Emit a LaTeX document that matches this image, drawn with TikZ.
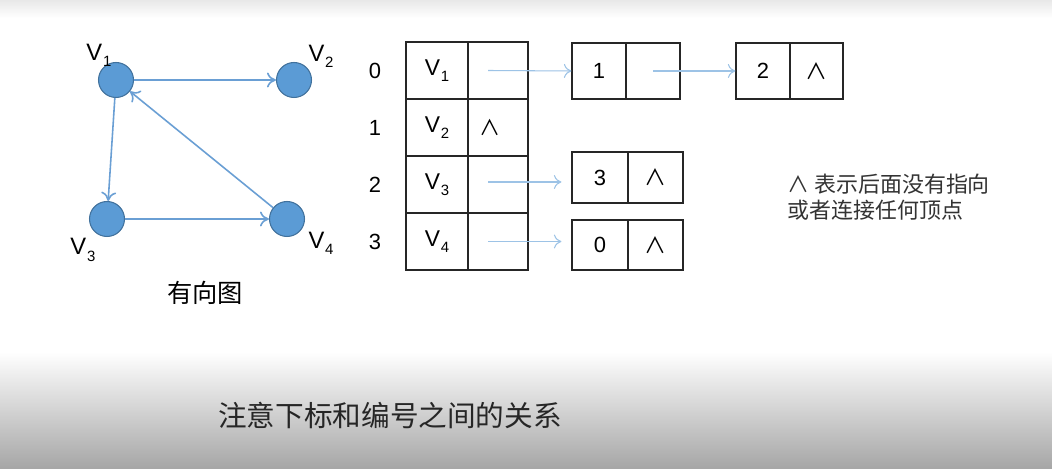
\documentclass[tikz,border=0pt]{standalone}
\usepackage{fontspec}
\setmainfont{Liberation Sans}
\newfontfamily\cjk{Noto Sans CJK SC}
\usetikzlibrary{arrows.meta,positioning}
\definecolor{vfill}{HTML}{5B9BD5}
\definecolor{vline}{HTML}{41719C}
\definecolor{eblue}{HTML}{6A9FD4}
\definecolor{pblue}{HTML}{9DC3E6}
\newcommand{\vname}[1]{V\kern0.5pt\raisebox{-0.5ex}{\fontsize{8.5}{8.5}\selectfont #1}}
\tikzset{
  vertex/.style={circle, fill=vfill, draw=vline, line width=0.6pt, minimum size=0.7cm, inner sep=0pt},
  vlabel/.style={font=\fontsize{13.5}{14}\selectfont, inner sep=0pt},
  edge/.style={-{To[length=1.8mm,width=3mm]}, draw=eblue, line width=0.9pt},
  cell/.style={draw=black!85, line width=0.7pt, minimum width=1.24cm, minimum height=1.14cm, inner sep=0pt, font=\fontsize{13}{13}\selectfont},
  idx/.style={font=\fontsize{12.5}{13}\selectfont, inner sep=0pt},
  lcell/.style={draw=black!85, line width=0.7pt, inner sep=0pt, font=\fontsize{12.5}{13}\selectfont},
  nil/.style={font=\cjk\fontsize{12}{12}\selectfont},
  ptr/.style={-{To[length=1.5mm,width=2.8mm]}, draw=pblue, line width=0.6pt}
}
\begin{document}
\begin{tikzpicture}[x=0.02cm, y=-0.02cm]
\useasboundingbox (0,0) rectangle (1052,469);
\fill[white] (0,0) rectangle (1052,469);
\shade[top color=black!9, bottom color=white] (0,0) rectangle (1052,18);
\shade[top color=white, bottom color=black!35] (0,352) rectangle (1052,469);

% directed graph
\node[vertex] (v1) at (116,80) {};
\node[vertex] (v2) at (294,80) {};
\node[vertex] (v3) at (107,219) {};
\node[vertex] (v4) at (287,219) {};
\node[vlabel] (l1) at (99,55) {\vname{1}};
\node[vlabel] (l2) at (321,56) {\vname{2}};
\node[vlabel] (l3) at (83,250) {\vname{3}};
\node[vlabel] (l4) at (321,243) {\vname{4}};
\draw[edge] (v1) -- (v2);
\draw[edge] (v1) -- (v3);
\draw[edge] (v3) -- (v4);
\draw[edge] (v4) -- (v1);
\node[font=\cjk\fontsize{14.4}{15}\selectfont] (gcap) at (205,293) {有向图};

% vertex table
\foreach \i/\y in {0/70.5,1/127.5,2/184.5,3/241.5}{
  \node[idx] (i\i) at (375,\y) {\i};
}
\node[cell] (c0a) at (437,70.5) {\vname{1}};
\node[cell, minimum width=1.2cm] (c0b) at (498,70.5) {};
\node[cell] (c1a) at (437,127.5) {\vname{2}};
\node[cell, minimum width=1.2cm] (c1b) at (498,127.5) {};
\node[cell] (c2a) at (437,184.5) {\vname{3}};
\node[cell, minimum width=1.2cm] (c2b) at (498,184.5) {};
\node[cell] (c3a) at (437,241.5) {\vname{4}};
\node[cell, minimum width=1.2cm] (c3b) at (498,241.5) {};
\node[nil] (z1) at (490,127.5) {∧};

% edge lists
\node[lcell, minimum width=1.08cm, minimum height=1.12cm] (n1a) at (599,71) {1};
\node[lcell, minimum width=1.08cm, minimum height=1.12cm] (n1b) at (653,71) {};
\node[lcell, minimum width=1.08cm, minimum height=1.12cm] (n2a) at (763,71) {2};
\node[lcell, minimum width=1.06cm, minimum height=1.12cm] (n2b) at (816.5,71) {\cjk ∧};
\node[lcell, minimum width=1.12cm, minimum height=1.02cm] (n3a) at (600,177.5) {3};
\node[lcell, minimum width=1.1cm, minimum height=1.02cm] (n3b) at (655.5,177.5) {\cjk ∧};
\node[lcell, minimum width=1.12cm, minimum height=1cm] (n4a) at (600,245) {0};
\node[lcell, minimum width=1.1cm, minimum height=1cm] (n4b) at (655.5,245) {\cjk ∧};

\draw[ptr] ([xshift=-0.2cm]c0b.center) -- (n1a.west);
\draw[ptr] (n1b.center) -- (n2a.west);
\draw[ptr] ([xshift=-0.2cm,yshift=0.05cm]c2b.center) -- ([xshift=-0.2cm,yshift=0.05cm]c2b.center -| n3a.west);
\draw[ptr] ([xshift=-0.2cm]c3b.center) -- ([xshift=-0.2cm]c3b.center -| n4a.west);

\node[anchor=north west, align=left, text=black!80, inner sep=0pt, font=\cjk\fontsize{12.5}{14.7}\selectfont] (note) at (787,174) {∧ 表示后面没有指向\\或者连接任何顶点};

\node[text=black!85, font=\cjk\fontsize{16.3}{17}\selectfont] (tip) at (390,415) {注意下标和编号之间的关系};
\end{tikzpicture}
\end{document}
